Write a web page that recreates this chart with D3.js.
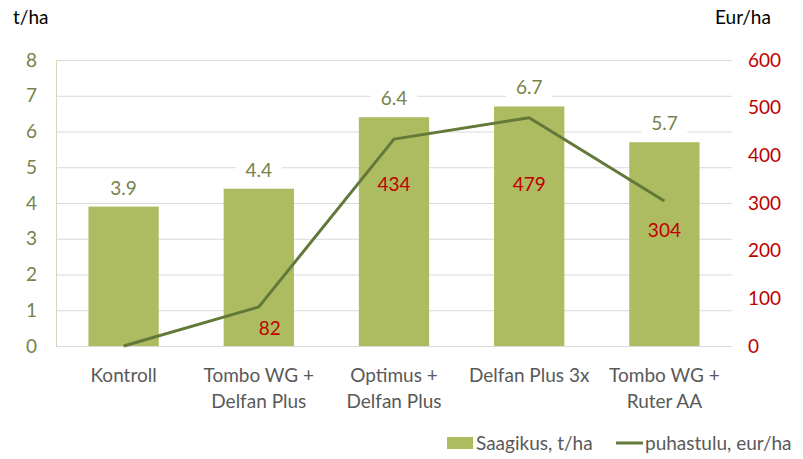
<!DOCTYPE html>
<html><head><meta charset="utf-8">
<script src="https://cdn.jsdelivr.net/npm/d3@7"></script>
<style>body{margin:0;background:#fff}svg{display:block}text{font-family:Lato,"Open Sans",sans-serif}</style>
</head><body><svg id="c" width="803" height="459"></svg>
<script>
const categories = [["Kontroll"],["Tombo WG +","Delfan Plus"],["Optimus +","Delfan Plus"],["Delfan Plus 3x"],["Tombo WG +","Ruter AA"]];
const yieldValues = [3.9, 4.4, 6.4, 6.7, 5.7];
const incomeValues = [0, 82, 434, 479, 304];
const leftTicks = [0,1,2,3,4,5,6,7,8];
const rightTicks = [0,100,200,300,400,500,600];
const lineLabelDy = [null, 21, 45, 66, 29];
const lineLabelDx = [0, 11, 0, 0, 0];
const legendLabels = ["Saagikus, t/ha", "puhastulu, eur/ha"];

(function(){
const svg = d3.select("#c");
const pL = 56, pR = 732, pT = 60, pB = 346;
const x = d3.scaleBand().domain(d3.range(categories.length)).range([pL, pR]).paddingInner(0.48).paddingOuter(0.24);
const yL = d3.scaleLinear().domain([0,8]).range([pB, pT]);
const yR = d3.scaleLinear().domain([0,600]).range([pB, pT]);
const barC = "#adbc60", lineC = "#62793a", olive = "#76834a", red = "#c00000", gray = "#595959";
const fs = 19;

svg.append("g").selectAll("line").data(leftTicks).join("line")
  .attr("x1", pL).attr("x2", pR).attr("y1", d=>yL(d)+0.5).attr("y2", d=>yL(d)+0.5)
  .attr("stroke", "#d9d9d9").attr("stroke-width", 1);
svg.append("line").attr("x1", pL+0.5).attr("x2", pL+0.5).attr("y1", pT).attr("y2", pB+1)
  .attr("stroke", "#d3dbb5").attr("stroke-width", 1);

const la = svg.append("g").attr("transform", `translate(${pL},0)`)
  .call(d3.axisLeft(yL).tickValues(leftTicks).tickSize(0).tickPadding(19).tickFormat(d3.format("d")));
la.select(".domain").remove();
la.selectAll("text").attr("fill", olive).attr("font-size", fs).style("font-family","Lato,sans-serif");

const ra = svg.append("g").attr("transform", `translate(${pR},0)`)
  .call(d3.axisRight(yR).tickValues(rightTicks).tickSize(0).tickPadding(16).tickFormat(d3.format("d")));
ra.select(".domain").remove();
ra.selectAll("text").attr("fill", red).attr("font-size", fs).style("font-family","Lato,sans-serif");

svg.append("text").attr("x", 13).attr("y", 24).attr("font-size", fs).attr("fill", "#000").text("t/ha");
svg.append("text").attr("x", 715).attr("y", 24).attr("font-size", fs).attr("fill", "#000").text("Eur/ha");

svg.append("g").selectAll("rect").data(yieldValues).join("rect")
  .attr("x", (d,i)=>x(i)).attr("width", x.bandwidth())
  .attr("y", d=>yL(d)).attr("height", d=>yL(0)-yL(d)).attr("fill", barC);

const bl = svg.append("g").selectAll("g").data(yieldValues).join("g")
  .attr("transform", (d,i)=>`translate(${x(i)+x.bandwidth()/2},${yL(d)-12})`);
bl.append("rect").attr("x", -23).attr("y", -15).attr("width", 46).attr("height", 22).attr("fill", "#fff");
bl.append("text").attr("text-anchor", "middle").attr("font-size", fs).attr("fill", olive)
  .text(d=>d3.format(".1f")(d));

const line = d3.line().x((d,i)=>x(i)+x.bandwidth()/2).y(d=>yR(d));
svg.append("path").datum(incomeValues).attr("d", line).attr("fill", "none")
  .attr("stroke", lineC).attr("stroke-width", 3).attr("stroke-linejoin", "round");

const labelled = incomeValues.map((v,i)=>({v,i})).filter(d=>lineLabelDy[d.i] !== null);
svg.append("g").selectAll("text").data(labelled).join("text")
  .attr("x", d=>x(d.i)+x.bandwidth()/2 + lineLabelDx[d.i])
  .attr("y", d=>yR(d.v)+lineLabelDy[d.i]+7)
  .attr("text-anchor", "middle").attr("font-size", fs).attr("fill", red)
  .text(d=>d.v);

const cl = svg.append("g").selectAll("text").data(categories).join("text")
  .attr("x", (d,i)=>x(i)+x.bandwidth()/2).attr("text-anchor", "middle")
  .attr("font-size", fs).attr("fill", gray);
cl.each(function(d){
  const t = d3.select(this);
  d.forEach((s,j)=>t.append("tspan").attr("x", t.attr("x")).attr("y", 382 + j*26).text(s));
});

const lg = svg.append("g");
lg.append("rect").attr("x", 447).attr("y", 437).attr("width", 26).attr("height", 12).attr("fill", barC);
lg.append("text").attr("x", 476).attr("y", 450).attr("font-size", fs).attr("fill", gray).text(legendLabels[0]);
lg.append("line").attr("x1", 616).attr("x2", 643).attr("y1", 443).attr("y2", 443).attr("stroke", lineC).attr("stroke-width", 3);
lg.append("text").attr("x", 645).attr("y", 450).attr("font-size", fs).attr("fill", gray).text(legendLabels[1]);
})();
</script></body></html>
